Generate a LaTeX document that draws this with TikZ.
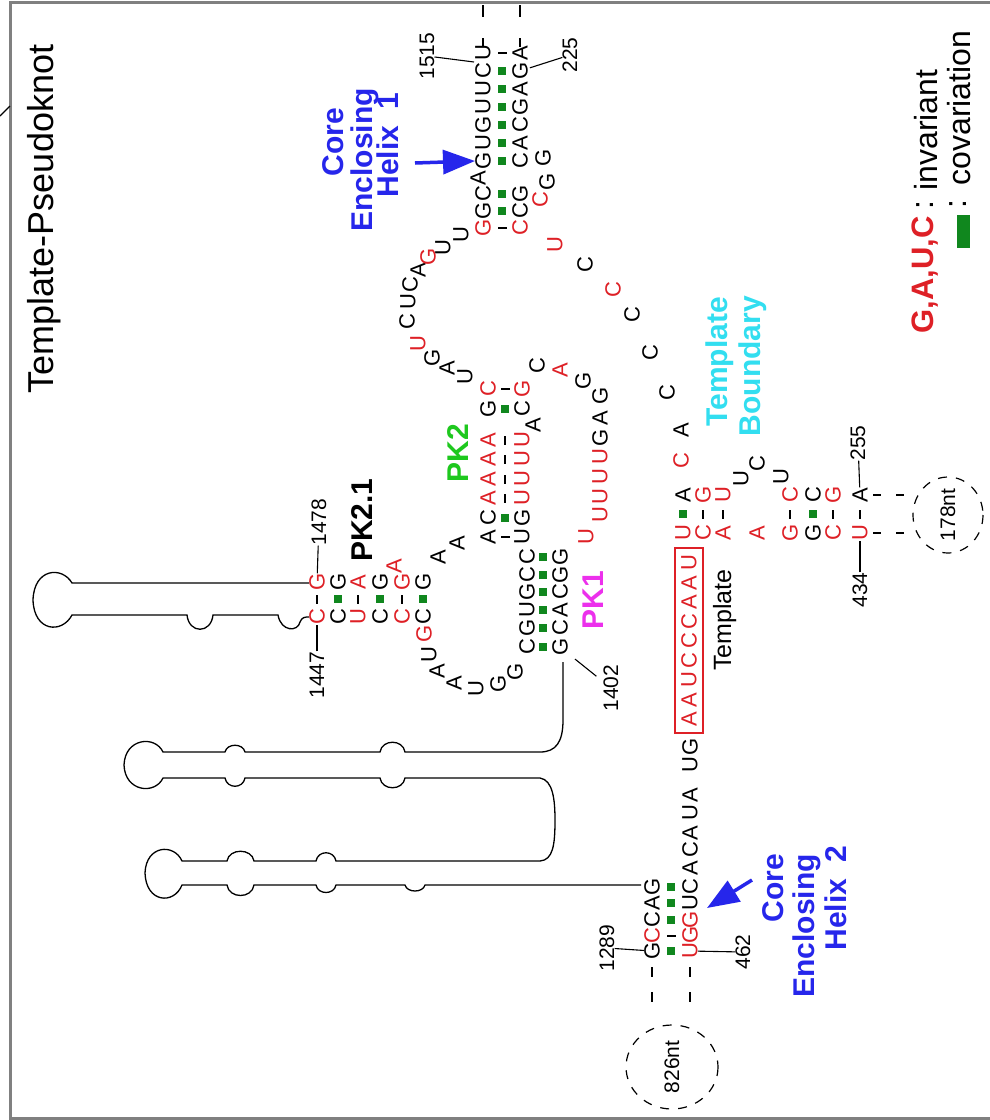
\documentclass[tikz,border=0pt]{standalone}
\usepackage{fontspec}
\setmainfont{Liberation Sans}
\usetikzlibrary{arrows.meta,calc}
\definecolor{ntred}{RGB}{222,32,38}
\definecolor{pgreen}{RGB}{16,135,30}
\definecolor{cblue}{RGB}{38,38,235}
\definecolor{ccyan}{RGB}{50,222,240}
\definecolor{cmag}{RGB}{236,48,236}
\definecolor{cgreen}{RGB}{30,200,30}
\definecolor{framegray}{RGB}{128,128,128}
\tikzset{
  nt/.style={rotate=90, inner sep=0pt, font=\fontsize{22}{22}\selectfont},
  num/.style={rotate=90, inner sep=0pt, font=\fontsize{21}{21}\selectfont},
  blab/.style={rotate=90, inner sep=0pt, anchor=base, font=\fontsize{30}{30}\selectfont\bfseries},
  gp/.style={fill=pgreen, inner sep=0pt, minimum width=8pt, minimum height=7.5pt},
  hd/.style={fill=black, inner sep=0pt, minimum width=9pt, minimum height=1.3pt},
  vd/.style={fill=black, inner sep=0pt, minimum width=1.3pt, minimum height=9pt},
  hp/.style={line width=1.3pt},
  link/.style={line width=1.1pt},
  circ/.style={line width=1.2pt, dash pattern=on 9pt off 9pt},
  barrow/.style={cblue, line width=3.5pt, -{Triangle[length=32pt, width=24pt]}},
}
\newcommand\seqk[1]{\foreach \x/\y/\l in {#1} {\node[nt] (k\x-\y) at (\x,\y) {\l};}}
\newcommand\seqr[1]{\foreach \x/\y/\l in {#1} {\node[nt, text=ntred] (r\x-\y) at (\x,\y) {\l};}}
\newcommand\pairg[1]{\foreach \x/\y in {#1} {\node[gp] (g\x-\y) at (\x,\y) {};}}
\newcommand\pairh[1]{\foreach \x/\y in {#1} {\node[hd] (h\x-\y) at (\x,\y) {};}}
\newcommand\pairv[1]{\foreach \x/\y in {#1} {\node[vd] (v\x-\y) at (\x,\y) {};}}
\begin{document}
\begin{tikzpicture}[x=1pt, y=-1pt]
\useasboundingbox (0,0) rectangle (989,1120);
\fill[white] (0,0) rectangle (989,1120);
% panel frame
\draw[framegray, line width=3pt] (995,2) -- (10,2) -- (10,1118) -- (995,1118);
\draw[line width=1.1pt] (0,116) .. controls (4,112) .. (10,106);

% title and legend
\node[rotate=90, anchor=base, inner sep=0pt, font=\fontsize{36}{36}\selectfont] (title) at (53,219) {Template-Pseudoknot};
\node[rotate=90, anchor=base, inner sep=0pt, text=ntred, font=\fontsize{31}{31}\selectfont\bfseries] (leg1) at (933,275) {G,A,U,C};
\node[rotate=90, anchor=base, inner sep=0pt, font=\fontsize{32}{32}\selectfont] (leg1c) at (933,205) {:};
\node[rotate=90, anchor=base, inner sep=0pt, font=\fontsize{32}{32}\selectfont] (leg1t) at (937,130) {invariant};
\node[fill=pgreen, inner sep=0pt, minimum width=13pt, minimum height=33pt] (leg2) at (963,231) {};
\node[rotate=90, anchor=base, inner sep=0pt, font=\fontsize{32}{32}\selectfont] (leg2c) at (966,204) {:};
\node[rotate=90, anchor=base, inner sep=0pt, font=\fontsize{32}{32}\selectfont] (leg2t) at (970,108) {covariation};

% ---------- core enclosing helix 1 ----------
\seqr{483/228/G, 520/228/C, 540/200/C}
\seqk{483/211/G, 483/194/C, 478/178/A, 483/161/G, 483/143/U, 483/125/G, 483/107/U, 483/89/U, 483/71/C, 483/53/U,
      520/211/C, 520/194/G, 520/161/C, 520/143/A, 520/125/C, 520/107/G, 520/89/A, 520/71/G, 520/53/A,
      543/158/G, 547/182/G}
\pairh{502/228, 502/53}
\pairg{502/211, 502/194, 502/161, 502/143, 502/125, 502/107, 502/89, 502/71}
\foreach \cx in {483,520} {
  \draw[link] (\cx,38) -- (\cx,47);
  \draw[link] (\cx,5) -- (\cx,17);
}
\node[num] (l1515) at (427,56) {1515};
\node[num] (l225) at (570,55) {225};
\coordinate (j1515) at ($(k483-53)!0.5!(k483-71)+(-9,0)$);
\draw[link] (l1515) -- (j1515);
\draw[link, shorten >=2pt] (l225) -- (k520-71);
\node[blab, text=cblue] (ch1a) at (343,142) {Core};
\node[blab, text=cblue] (ch1b) at (372,160) {Enclosing};
\node[blab, text=cblue] (ch1c) at (398,145) {Helix\ \ 1};
\coordinate (a1s) at (415,163);
\draw[barrow] (a1s) -- (k483-161.north);

% ---------- loop between helix 1 and PK2 ----------
\seqk{461/235/U, 443/248/U, 418/270/A, 410/285/C, 408/302/U, 407/322/C, 432/358/G, 447/368/A, 465/377/U}
\seqr{428/257/G, 418/344/U}

% ---------- PK2 ----------
\seqr{488/389/C, 488/440/A, 488/459/A, 488/479/A, 488/498/A,
      522/389/G, 522/440/U, 522/459/U, 522/479/U, 522/498/U}
\seqk{488/409/G, 488/518/C, 488/537/A, 522/409/C, 533/425/A, 522/518/G, 522/537/U}
\pairh{505/389, 505/537}
\pairg{505/409, 505/518}
\pairv{505/440, 505/459, 505/479, 505/498}
\node[blab, text=cgreen] (pk2) at (468,453) {PK2};

% loop from PK2 to PK1
\seqk{537/366/C, 583/381/G, 600/396/G, 600/418/A, 600/438/G}
\seqr{560/370/A, 600/457/U, 600/477/U, 600/497/U, 600/515/U, 586/537/U}

% ---------- PK1 ----------
\seqk{527/557/C, 527/575/C, 527/592/G, 527/610/U, 527/628/G, 527/647/C,
      560/557/G, 560/575/G, 560/592/C, 560/610/A, 560/628/C, 560/647/G}
\pairg{543/557, 543/575, 543/592, 543/610, 543/628, 543/647}
\node[blab, text=cmag] (pk1) at (603,600) {PK1};
\seqk{515/672/G, 498/684/G, 476/689/U, 454/683/A, 437/671/A, 429/655/U}
\seqr{424/634/G}
\node[num] (l1402) at (611,688) {1402};
\draw[link, shorten <=9pt, shorten >=9pt] (k560-647) -- (l1402);

% ---------- PK2.1 ----------
\seqr{317/617/C, 358/617/U, 402/617/C, 317/582/G, 358/582/A, 402/582/G, 394/566/A}
\seqk{338/617/C, 380/617/C, 423/617/C, 338/582/G, 380/582/G, 423/582/G, 438/557/A, 457/543/A}
\pairv{317/599, 358/599, 402/599}
\pairg{338/599, 380/599, 423/599}
\node[num] (l1478) at (319,522) {1478};
\node[num] (l1447) at (317,675) {1447};
\draw[link] (l1478) -- (r317-582);
\draw[link] (l1447) -- (r317-617);
\node[blab] (pk21) at (372,520) {PK2.1};

% hairpin attached to PK2.1
\draw[hp] (309,583) -- (72,583) .. controls (62,566) and (34,568) .. (33,600)
  .. controls (34,632) and (62,634) .. (72,615) -- (187,615)
  .. controls (189,634) and (211,634) .. (213,615) -- (278,615)
  .. controls (281,632) and (298,632) .. (300,622)
  .. controls (302,617) and (305,617) .. (309,617);

% two hairpins between PK1 and helix 2
\draw[hp] (563,662) -- (563,720) .. controls (563,742) and (556,752) .. (540,752)
  -- (405,752) .. controls (403,739) and (382,739) .. (380,752)
  -- (245,752) .. controls (243,743) and (227,743) .. (225,752)
  -- (163,752) .. controls (155,735) and (125,738) .. (124,765)
  .. controls (125,792) and (155,795) .. (163,778)
  -- (225,778) .. controls (227,789) and (243,789) .. (245,778)
  -- (380,778) .. controls (382,791) and (403,791) .. (405,778)
  -- (540,778) .. controls (553,780) and (555,800) .. (555,820)
  .. controls (555,845) and (553,860) .. (540,861)
  -- (336,861) .. controls (334,850) and (318,850) .. (316,861)
  -- (254,861) .. controls (252,848) and (229,848) .. (227,861)
  -- (182,861) .. controls (174,843) and (146,845) .. (145,873)
  .. controls (146,903) and (174,905) .. (182,885)
  -- (227,885) .. controls (229,899) and (252,899) .. (254,885)
  -- (316,885) .. controls (318,895) and (334,895) .. (336,885)
  -- (405,885) .. controls (407,893) and (423,893) .. (425,885)
  -- (641,885);

% ---------- template ----------
\seqr{689/719/A, 689/700/A, 689/680/U, 689/661/C, 689/641/C, 689/622/C, 689/602/A, 689/583/A, 689/563/U}
\node[draw=ntred, line width=1.2pt, minimum width=28pt, minimum height=185pt, inner sep=0pt] (tbox) at (689,640.5) {};
\node[rotate=90, anchor=base, inner sep=0pt, font=\fontsize{25}{25}\selectfont] (tlab) at (731,620) {Template};
\seqk{690/747/G, 690/765/U, 690/795/A, 690/813/U, 690/833/A, 690/850/C, 690/868/A, 690/887/C, 690/903/U}
\seqr{690/920/G, 690/935/G, 690/951/U}

% ---------- core enclosing helix 2 ----------
\seqk{652/887/G, 652/903/A, 652/920/C, 652/951/G}
\seqr{652/936/C}
\pairg{671/951, 671/920, 671/903, 671/887}
\pairh{671/936}
\foreach \cx in {652,690} {
  \draw[link] (\cx,967) -- (\cx,977);
  \draw[link] (\cx,992) -- (\cx,1002);
}
\node[num] (l1289) at (607,948) {1289};
\node[num] (l462) at (743,952) {462};
\draw[link] (l1289) -- (k652-951);
\draw[link] (l462) -- (r690-951);
\node[blab, text=cblue] (ch2a) at (783,888) {Core};
\node[blab, text=cblue] (ch2b) at (814,926) {Enclosing};
\node[blab, text=cblue] (ch2c) at (846,898) {Helix\ \ 2};
\coordinate (a2s) at (752,880);
\draw[barrow] (a2s) -- (707,908);
\draw[circ] (672,1067) ellipse (46 and 42);
\node[num, font=\fontsize{21}{21}\selectfont] (c826) at (672,1067) {826nt};

% ---------- template boundary helix ----------
\seqr{683/533/U, 703/533/C, 723/533/A, 757/533/A, 790/533/G, 833/533/C, 860/533/U,
      703/495/G, 723/495/U, 790/495/C, 833/495/G}
\seqk{813/533/G, 683/495/A, 813/495/C, 860/495/A, 741/479/U, 757/464/C, 781/477/U}
\pairg{683/514, 813/514}
\pairv{703/514, 723/514, 790/514, 833/514, 860/514}
\foreach \cy in {495,533} {
  \draw[link] (873,\cy) -- (881,\cy);
  \draw[link] (896,\cy) -- (904,\cy);
}
\node[num] (l434) at (860,590) {434};
\node[num] (l255) at (858,443) {255};
\draw[link] (l434) -- (r860-533);
\draw[link] (l255) -- (k860-495);
\draw[circ] (948,515) ellipse (35 and 38);
\node[num, font=\fontsize{21}{21}\selectfont] (c178) at (948,515) {178nt};
\node[blab, text=ccyan] (tb1) at (727,362) {Template};
\node[blab, text=ccyan] (tb2) at (760,366) {Boundary};

% single strand from template boundary up to helix 1
\seqr{681/461/C, 613/290/C, 555/245/U}
\seqk{681/430/A, 667/393/C, 650/353/C, 632/315/C, 585/265/C}
\end{tikzpicture}
\end{document}
